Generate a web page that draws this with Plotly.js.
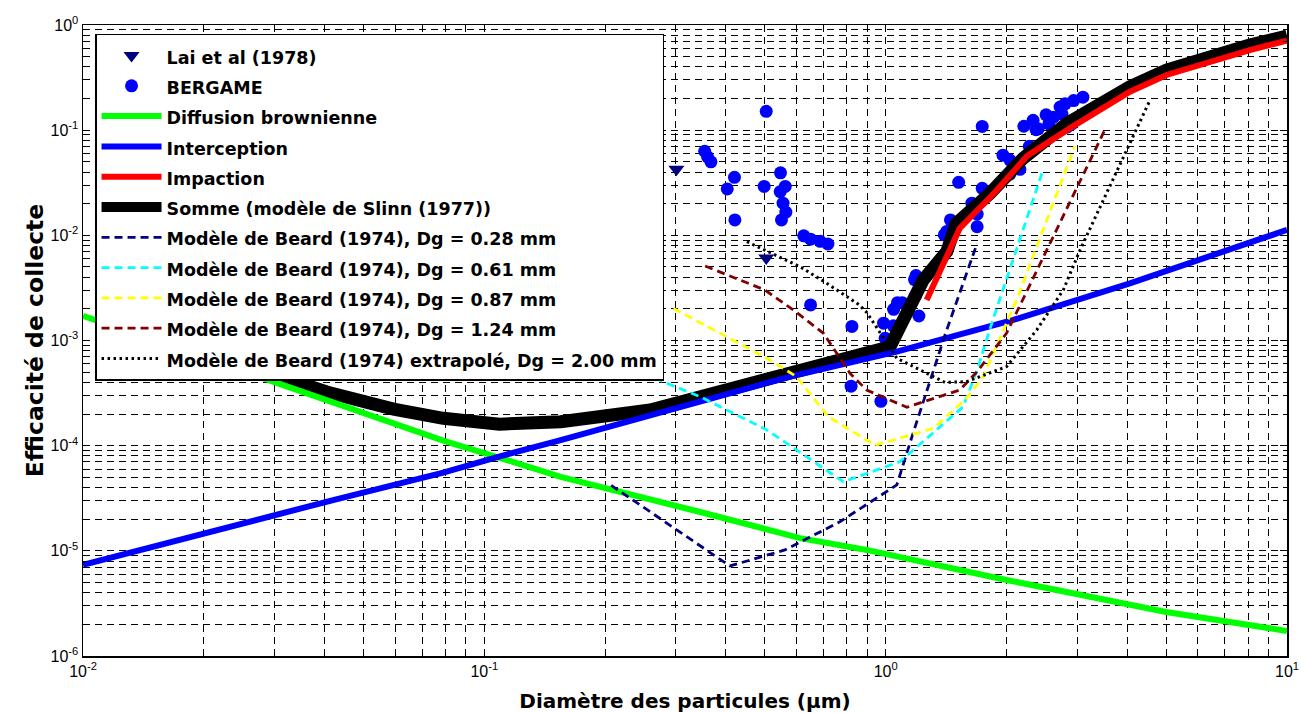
<!DOCTYPE html>
<html>
<head>
<meta charset="utf-8">
<script src="https://cdn.plot.ly/plotly-3.0.1.min.js"></script>
<style>html,body{margin:0;padding:0;background:#fff;}#chart{width:1301px;height:713px;}</style>
</head>
<body>
<div id="chart"></div>
<script>
// ---- Data ----
const laiX = [0.301, 0.504];
const laiY = [0.0426, 0.0061];

const bergameX = [0.504, 0.354, 0.36, 0.367, 0.420, 0.403, 0.421, 0.547, 0.498, 0.562, 0.546, 0.555, 0.564, 0.55,
  0.625, 0.65, 0.687, 0.718, 0.65, 0.824, 0.82, 0.973, 1.047, 0.988, 1.045, 0.997, 1.07,
  1.19, 1.18, 1.186, 1.10, 1.21, 1.74, 1.52, 1.74, 1.69, 1.69, 1.45, 1.42, 1.40, 1.64,
  1.96, 2.04, 2.16, 2.04, 2.28, 2.21, 2.33, 2.40, 2.51, 2.62, 2.72, 2.80, 2.94, 3.10, 2.75, 2.83, 2.91, 2.37, 2.55];
const bergameY = [0.151, 0.063, 0.0557, 0.050, 0.0356, 0.0276, 0.0140, 0.0393, 0.0292, 0.0292, 0.026, 0.0202, 0.0166, 0.0140,
  0.0099, 0.0092, 0.00877, 0.00827, 0.00218, 0.00136, 0.000368, 0.000264, 0.00198, 0.00146, 0.00138, 0.00105, 0.00229,
  0.00415, 0.0038, 0.00265, 0.00229, 0.00171, 0.1086, 0.0319, 0.028, 0.0159, 0.0121, 0.0140, 0.0109, 0.0101, 0.0202,
  0.0578, 0.0519, 0.0424, 0.0382, 0.0703, 0.109, 0.124, 0.103, 0.140, 0.133, 0.166, 0.178, 0.191, 0.206, 0.143, 0.107, 0.115, 0.101, 0.115];

const diffX = [0.01, 0.0299, 0.0406, 0.0596, 0.0793, 0.1057, 0.155, 0.345, 0.612, 0.897, 2.0, 5.0, 10];
const diffY = [1.72e-3, 4.03e-4, 2.66e-4, 1.61e-4, 1.11e-4, 7.97e-5, 5.04e-5, 2.34e-5, 1.32e-5, 1.02e-5, 5.28e-6, 2.62e-6, 1.73e-6];

const interX = [0.01, 0.01995, 0.042, 0.079, 0.105, 0.155, 0.259, 0.578, 1.066, 2.08, 4.06, 10];
const interY = [7.34e-6, 1.47e-5, 3.04e-5, 5.53e-5, 7.59e-5, 1.13e-4, 1.96e-4, 4.53e-4, 7.83e-4, 1.57e-3, 3.5e-3, 1.125e-2];

const impX = [1.265, 1.53, 1.86, 2.25, 2.92, 4.06, 5.01, 8.07, 10];
const impY = [2.43e-3, 1.17e-2, 2.5e-2, 5.68e-2, 0.108, 0.232, 0.335, 0.578, 0.71];

const sumX = [0.011, 0.0276, 0.0405, 0.0594, 0.079, 0.109, 0.155, 0.259, 0.578, 1.025, 1.24, 1.42, 1.50, 1.82, 2.20, 2.83, 4.06, 5.01, 8.07, 10];
const sumY = [1.65e-3, 5.2e-4, 3.24e-4, 2.23e-4, 1.82e-4, 1.6e-4, 1.69e-4, 2.18e-4, 4.8e-4, 8.73e-4, 3.76e-3, 7.0e-3, 1.3e-2, 2.51e-2, 5.4e-2, 0.116, 0.259, 0.373, 0.645, 0.786];

const b028X = [0.207, 0.409, 0.561, 0.769, 1.066, 1.17, 1.41, 1.69];
const b028Y = [4.2e-5, 7.18e-6, 1.02e-5, 1.89e-5, 4.23e-5, 1.31e-4, 1.17e-3, 8.4e-3];

const b061X = [0.266, 0.345, 0.506, 0.785, 1.086, 1.56, 1.69, 1.85, 2.47];
const b061Y = [4.37e-4, 2.92e-4, 1.41e-4, 4.54e-5, 7.05e-5, 2.35e-4, 5.24e-4, 1.57e-3, 4.25e-2];

const b087X = [0.296, 0.417, 0.506, 0.600, 0.719, 0.941, 1.315, 1.59, 1.75, 2.12, 2.96];
const b087Y = [2.02e-3, 1.01e-3, 6.78e-4, 4.53e-4, 1.89e-4, 1.01e-4, 1.46e-4, 2.82e-4, 4.53e-4, 2.43e-3, 7.07e-2];

const b124X = [0.355, 0.50, 0.589, 0.70, 0.815, 0.897, 1.129, 1.53, 1.69, 2.0, 3.54];
const b124Y = [5.11e-3, 3.02e-3, 1.95e-3, 1.17e-3, 4.88e-4, 3.38e-4, 2.32e-4, 3.38e-4, 5.05e-4, 1.17e-3, 0.106];

const b200X = [0.451, 0.612, 0.713, 0.857, 0.897, 1.066, 1.406, 1.59, 2.0, 2.38, 2.77, 3.05, 4.56];
const b200Y = [8.7e-3, 5.03e-3, 3.5e-3, 2.2e-3, 1.85e-3, 6.78e-4, 3.99e-4, 4.06e-4, 5.64e-4, 1.26e-3, 3.02e-3, 7.25e-3, 0.194];

const xTickVals = [0.01, 0.1, 1, 10];
const xTickText = ['10<sup>-2</sup>', '10<sup>-1</sup>', '10<sup>0</sup>', '10<sup>1</sup>'];
const yTickVals = [1e-6, 1e-5, 1e-4, 1e-3, 1e-2, 1e-1, 1];
const yTickText = ['10<sup>-6</sup>', '10<sup>-5</sup>', '10<sup>-4</sup>', '10<sup>-3</sup>', '10<sup>-2</sup>', '10<sup>-1</sup>', '10<sup>0</sup>'];
const mantissas = [2, 3, 4, 5, 6, 7, 8, 9];

function minorVals(decades) {
  const out = [];
  decades.forEach(d => mantissas.forEach(m => out.push(m * d)));
  return out;
}

// ---- Traces ----
const LF = 17.5;
function nm(s) { return '<span style="font-size:' + LF + 'px">' + s + '</span>'; }
const beardDash = '8px,5px';

const traces = [
  {x: bergameX, y: bergameY, type: 'scatter', mode: 'markers', name: nm('BERGAME'), legendrank: 2,
   marker: {symbol: 'circle', size: 13, color: '#0000ff'}},
  {x: laiX, y: laiY, type: 'scatter', mode: 'markers', name: nm('Lai et al (1978)'), legendrank: 1,
   marker: {symbol: 'triangle-down', size: 14, color: '#000080'}},
  {x: sumX, y: sumY, type: 'scatter', mode: 'lines', name: nm('Somme (modèle de Slinn (1977))'), legendrank: 6,
   line: {color: '#000000', width: 13}},
  {x: diffX, y: diffY, type: 'scatter', mode: 'lines', name: nm('Diffusion brownienne'), legendrank: 3,
   line: {color: '#00ff00', width: 6}},
  {x: interX, y: interY, type: 'scatter', mode: 'lines', name: nm('Interception'), legendrank: 4,
   line: {color: '#0000ff', width: 6}},
  {x: impX, y: impY, type: 'scatter', mode: 'lines', name: nm('Impaction'), legendrank: 5,
   line: {color: '#ff0000', width: 6}},
  {x: b028X, y: b028Y, type: 'scatter', mode: 'lines', name: nm('Modèle de Beard (1974), Dg = 0.28 mm'), legendrank: 7,
   line: {color: '#000080', width: 2.8, dash: beardDash}},
  {x: b061X, y: b061Y, type: 'scatter', mode: 'lines', name: nm('Modèle de Beard (1974), Dg = 0.61 mm'), legendrank: 8,
   line: {color: '#00ffff', width: 2.8, dash: beardDash}},
  {x: b087X, y: b087Y, type: 'scatter', mode: 'lines', name: nm('Modèle de Beard (1974), Dg = 0.87 mm'), legendrank: 9,
   line: {color: '#ffff00', width: 2.8, dash: beardDash}},
  {x: b124X, y: b124Y, type: 'scatter', mode: 'lines', name: nm('Modèle de Beard (1974), Dg = 1.24 mm'), legendrank: 10,
   line: {color: '#800000', width: 2.8, dash: beardDash}},
  {x: b200X, y: b200Y, type: 'scatter', mode: 'lines', name: nm('Modèle de Beard (1974) extrapolé, Dg = 2.00 mm'), legendrank: 11,
   line: {color: '#000000', width: 3, dash: '2.5px,3.5px'}}
];

const gridDash = '7px,5px';
const tickFont = {family: 'Liberation Sans, Arial, sans-serif', size: 16, color: '#000'};

function axisBase() {
  return {
    type: 'log', tickmode: 'array', ticks: 'inside', ticklen: 7, tickwidth: 1, tickcolor: '#000',
    showline: true, linecolor: '#000', linewidth: 1.5, mirror: 'allticks',
    showgrid: true, gridcolor: '#000', gridwidth: 1, griddash: gridDash, zeroline: false,
    tickfont: tickFont
  };
}

const xaxis = Object.assign(axisBase(), {
  range: [-2, 1], tickvals: xTickVals, ticktext: xTickText,
  minor: {tickmode: 'array', tickvals: minorVals([0.01, 0.1, 1]), ticks: 'inside', ticklen: 4, tickcolor: '#000',
          showgrid: true, gridcolor: '#000', gridwidth: 1, griddash: gridDash},
  title: {text: 'Diamètre des particules (µm)', font: {family: 'DejaVu Sans, sans-serif', size: 20, color: '#000', weight: 'bold'}, standoff: 16}
});
const yaxis = Object.assign(axisBase(), {
  range: [-6, 0], tickvals: yTickVals, ticktext: yTickText,
  minor: {tickmode: 'array', tickvals: minorVals([1e-6, 1e-5, 1e-4, 1e-3, 1e-2, 1e-1]), ticks: 'inside', ticklen: 4, tickcolor: '#000',
          showgrid: true, gridcolor: '#000', gridwidth: 1, griddash: gridDash},
  title: {text: 'Efficacité de collecte', font: {family: 'DejaVu Sans, sans-serif', size: 23.5, color: '#000', weight: 'bold'}, standoff: 0}
});

const layout = {
  width: 1301, height: 713,
  margin: {l: 83, r: 14, t: 25, b: 57},
  paper_bgcolor: '#fff', plot_bgcolor: '#fff',
  xaxis: xaxis, yaxis: yaxis,
  showlegend: true,
  legend: {x: 0.01, y: 0.986, xanchor: 'left', yanchor: 'top', bgcolor: '#fff', bordercolor: '#000', borderwidth: 1.5,
           font: {family: 'DejaVu Sans, sans-serif', size: 21, color: '#000', weight: 'bold'}, itemwidth: 60,
           traceorder: 'normal'}
};

Plotly.newPlot('chart', traces, layout, {displayModeBar: false, staticPlot: true});
</script>
</body>
</html>
